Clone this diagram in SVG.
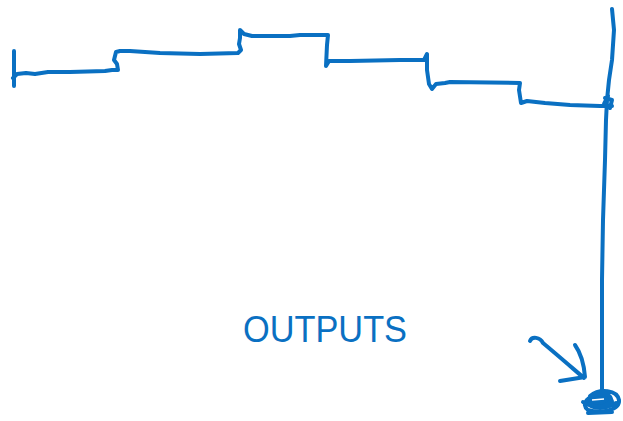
<svg xmlns="http://www.w3.org/2000/svg" width="623" height="421" viewBox="0 0 623 421">
<style>
.ink{fill:none;stroke:#0a70c2;stroke-width:4;stroke-linecap:round;stroke-linejoin:round}
.lbl{font-family:"Liberation Sans",Arial,sans-serif;font-size:36px;fill:#0a70c2}
</style>
<rect width="623" height="421" fill="#ffffff"/>
<g id="steps">
<path class="ink" d="M14,51 L14,86 M13,78 L17,74 L26,73 L35,74 L48,72 L70,72 L105,71 L112,70 L118,70 L117,64 L114,60 L116,52 L120,51 L130,51 L160,53 L200,54 L238,53 L241,50 L239,44 L240,38 L240,30 L244,34 L252,36 L290,36 L300,35 L328,35 L327,45 L326,66 L329,61 L350,61 L400,60 L424,60 L427,54 L427,70 L429,84 L432,89 L436,84 L445,83 L450,82 L520,83 L519,90 L521,103 L527,101 L545,103 L570,105 L600,106 L612,106"/>
</g>
<g id="wire">
<path class="ink" d="M612,9 L614,30 L612,60 L609,80 L607,100 L606,120 L605,160 L603,220 L602,280 L602,340 L602,398"/>
<path class="ink" d="M605,98 L612,100 L610,108 L604,104 L608,96"/>
</g>
<g id="output-node">
<ellipse cx="600" cy="402" rx="14" ry="8" fill="#0a70c2"/>
<path class="ink" d="M590,396 C600,388 617,390 619,400 C620,410 602,414 588,410 C580,404 588,395 602,394 C614,394 615,405 598,407 M583,402 C592,407 606,409 616,403 M588,413 L612,412"/>
<path d="M592,400 L604,399" stroke="#ffffff" stroke-width="1.5" fill="none"/>
</g>
<g id="arrow">
<path class="ink" d="M530,341 C532,336 540,337 543,343 C555,353 570,366 584,378 M575,345 C580,352 584,364 585,377 L560,381"/>
</g>
<g id="label">
<text class="lbl" x="243" y="342" textLength="164" lengthAdjust="spacingAndGlyphs">OUTPUTS</text>
</g>
</svg>
